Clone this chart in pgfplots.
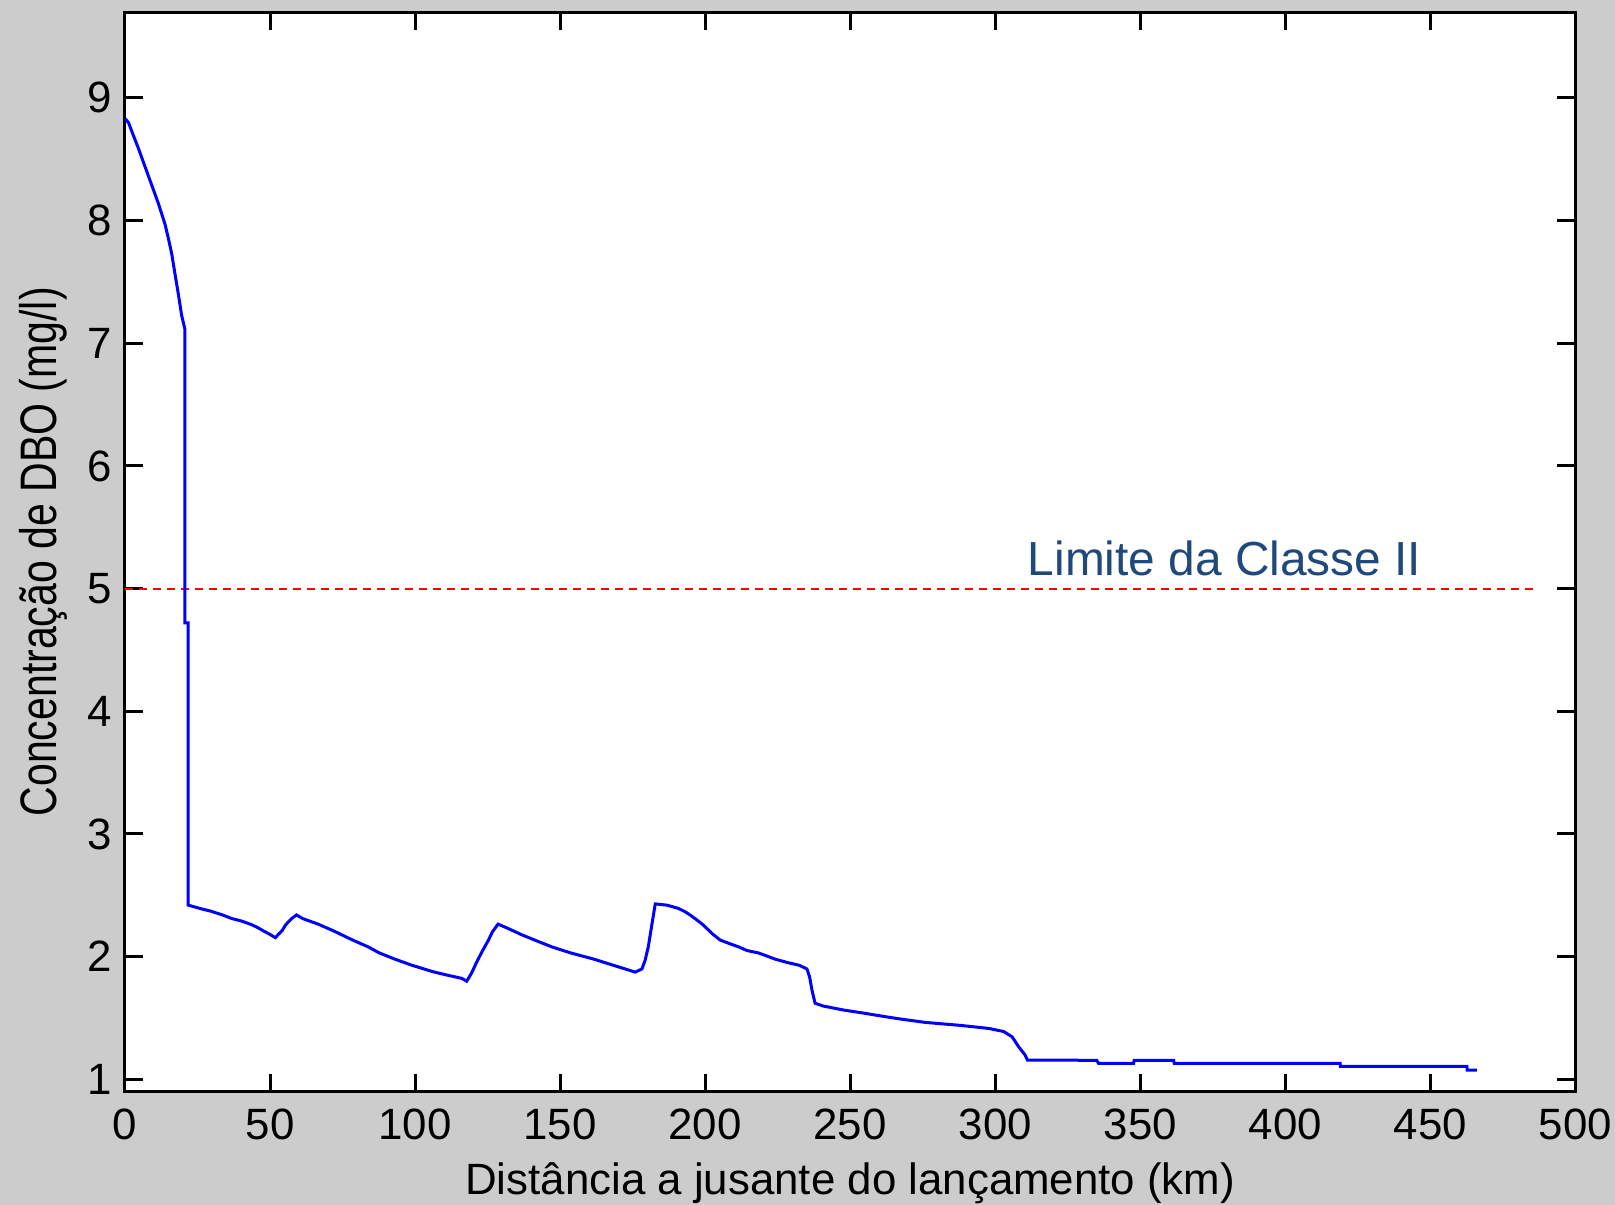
\documentclass[border=0pt]{standalone}
\usepackage{pgfplots}
\pgfplotsset{compat=1.18}
\usepackage{fontspec}
\setmainfont{Liberation Sans}
\definecolor{bggray}{RGB}{204,204,204}
\definecolor{limblue}{RGB}{31,73,125}
\begin{document}
\begin{tikzpicture}
\fill[bggray] (-31.25bp,-28.3bp) rectangle (372.5bp,272.9bp);
\begin{axis}[
  at={(0,0)}, anchor=south west,
  scale only axis, width=362.6bp, height=269.9bp,
  xmin=0, xmax=500, ymin=0.9, ymax=9.7,
  xtick={0,50,...,500}, ytick={1,2,...,9},
  tick align=inside, major tick length=4.5bp,
  axis line style={line width=0.75bp, black},
  every tick/.style={line width=0.75bp, black},
  axis background/.style={fill=white},
  /pgf/number format/assume math mode=true,
  xticklabel style={anchor=base, yshift=-12bp, font=\fontsize{11}{13}\selectfont},
  yticklabel style={anchor=east, inner sep=0pt, xshift=-3bp, font=\fontsize{11}{13}\selectfont},
  xlabel={Distância a jusante do lançamento (km)},
  ylabel={\scalebox{1}[1.25]{Concentração de DBO (mg/l)}},
  xlabel style={at={(axis description cs:0.5,-0.0956)}, anchor=base, font=\fontsize{11}{13}\selectfont},
  ylabel style={at={(axis description cs:-0.056,0.5)}, anchor=center, font=\fontsize{10.3}{12}\selectfont},
]
\addplot[red, line width=0.5bp, dash pattern=on 2bp off 1.5bp] coordinates {(0,5) (486,5)};
\addplot[blue, line width=0.75bp] coordinates {
(0,8.83) (1.2,8.80) (2.3,8.73) (4.6,8.59) (6.9,8.44) (9.2,8.29) (11.5,8.14) (13.8,7.97)
(14.9,7.86) (16.1,7.73) (17.2,7.57) (18.4,7.40) (19.5,7.23) (20.6,7.12)
(20.6,4.72) (21.8,4.72) (21.8,2.42) (26.3,2.39) (29.7,2.37) (33.6,2.34)
(36.9,2.31) (40.2,2.29) (43.2,2.265) (45.5,2.24) (47.7,2.21) (50.1,2.18)
(51.8,2.155) (54.1,2.21) (55.4,2.26) (57.4,2.31) (59.1,2.34) (61.3,2.31)
(66.6,2.265) (71.9,2.21) (78.5,2.135) (83.8,2.08) (87.7,2.03) (93,1.98)
(98.9,1.93) (106.2,1.877) (111.5,1.847) (116.1,1.823) (117.8,1.80)
(119.4,1.863) (121.4,1.964) (123.3,2.05) (125.3,2.135) (126.6,2.20)
(128.6,2.265) (131.3,2.238) (133.9,2.21) (136.6,2.18) (141.8,2.13)
(147.1,2.08) (153.7,2.03) (161.6,1.98) (168.3,1.93) (172.4,1.90)
(175.9,1.874) (178.2,1.90) (179.3,1.97) (180.4,2.08) (181.6,2.257)
(182.8,2.43) (186.8,2.42) (190.8,2.393) (193.1,2.366) (194.8,2.34)
(197.1,2.30) (199.4,2.257) (202.3,2.19) (205.2,2.135) (208,2.11)
(211.5,2.08) (214.4,2.05) (218.4,2.03) (221.3,2.005) (224.1,1.98)
(228.2,1.953) (232.4,1.93) (235.1,1.90) (236,1.836) (236.8,1.73)
(237.9,1.62) (240.8,1.597) (247.7,1.565) (254.6,1.54) (261.5,1.513)
(267.8,1.49) (275.9,1.464) (287.9,1.44) (297.7,1.415) (302.9,1.39)
(305.8,1.347) (308.1,1.265) (310.3,1.198) (311.1,1.157) (335,1.155)
(335.6,1.13) (347.7,1.13) (347.9,1.155) (361.5,1.155) (361.7,1.13)
(418.9,1.13) (419,1.106) (462.6,1.106) (462.7,1.075) (466,1.075)
};
\node[anchor=base west, inner sep=0pt, text=limblue, font=\fontsize{12}{14}\selectfont] at (axis cs:311,5.108) {Limite da Classe II};
\end{axis}
\pgfresetboundingbox
\useasboundingbox (-31.25bp,-28.3bp) rectangle (372.5bp,272.9bp);
\end{tikzpicture}
\end{document}
